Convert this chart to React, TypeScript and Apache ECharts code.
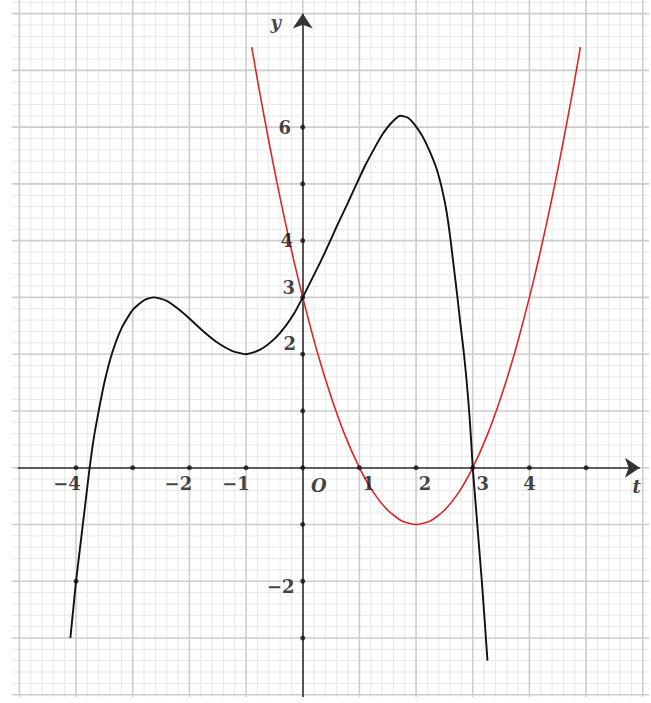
import React, { useEffect, useRef } from "react";
import * as echarts from "echarts";

// ---- data ----
const BLACK_T = [-4.1, -4.05, -4.0, -3.94, -3.88, -3.82, -3.76, -3.69, -3.6, -3.5, -3.37, -3.2, -3.0, -2.8, -2.63, -2.4, -2.2, -2.0, -1.75, -1.5, -1.25, -1.0, -0.75, -0.5, -0.3, -0.15, 0, 0.15, 0.3, 0.45, 0.6, 0.78, 0.95, 1.1, 1.25, 1.4, 1.55, 1.72, 1.85, 1.97, 2.1, 2.23, 2.36, 2.46, 2.54, 2.61, 2.67, 2.73, 2.78, 2.84, 2.89, 2.94, 2.97, 3.0, 3.04, 3.08, 3.12, 3.16, 3.2, 3.26];
const BLACK_Y = [-3.0, -2.5, -2.0, -1.5, -1.0, -0.5, 0, 0.5, 1.0, 1.5, 2.0, 2.45, 2.78, 2.95, 3.0, 2.94, 2.8, 2.63, 2.4, 2.2, 2.06, 2.0, 2.08, 2.27, 2.5, 2.72, 3.0, 3.3, 3.6, 3.92, 4.25, 4.63, 5.0, 5.32, 5.6, 5.86, 6.06, 6.2, 6.17, 6.05, 5.86, 5.6, 5.27, 4.9, 4.5, 4.0, 3.5, 3.0, 2.55, 2.05, 1.55, 0.95, 0.5, 0, -0.5, -1.0, -1.5, -2.0, -2.55, -3.4];

const RED_T = [-0.9, -0.75, -0.6, -0.45, -0.3, -0.15, 0, 0.25, 0.5, 0.75, 1, 1.25, 1.5, 1.75, 2, 2.25, 2.5, 2.75, 3, 3.25, 3.5, 3.75, 4, 4.15, 4.3, 4.45, 4.6, 4.75, 4.9];
const RED_Y = [7.41, 6.56, 5.76, 5.0, 4.29, 3.62, 3.0, 2.06, 1.25, 0.56, 0, -0.44, -0.75, -0.94, -1, -0.94, -0.75, -0.44, 0, 0.56, 1.25, 2.06, 3.0, 3.62, 4.29, 5.0, 5.76, 6.56, 7.41];

const X_TICK_DOTS = [-4, -3, -2, -1, 0, 1, 2, 3, 4, 5];
const Y_TICK_DOTS = [-3, -2, -1, 1, 2, 3, 4, 5, 6];
const CURVE_DOT = [[-4, -2]];

const X_LABELS = ["−4", "−2", "−1", "O", "1", "2", "3", "4", "t"];
const X_LABEL_AT = [-4, -2, -1, 0, 1, 2, 3, 4, 6];
const Y_LABELS = ["6", "4", "3", "2", "−2", "y"];
const Y_LABEL_AT = [6, 4, 3, 2, -2, 7.8];

// ---- view extents ----
const X_MIN = -5.13;
const X_MAX = 6.11;
const Y_MIN = -4.04;
const Y_MAX = 8.24;

// label offsets (pixels) per label text
const X_LABEL_OFFSET: Record<string, number[]> = {
  "−4": [-9, 16], "−2": [-11, 16], "−1": [-10, 16], O: [16, 18],
  "1": [9, 16], "2": [9, 16], "3": [10, 16], "4": [0, 16], t: [-6, 19],
};
const Y_LABEL_OFFSET: Record<string, number[]> = {
  "6": [-18, 0], "4": [-16, 0], "3": [-14, -10], "2": [-13, -11], "−2": [-22, 5], y: [-27, -2],
};
const ITALIC = new Set(["O", "t", "y"]);

function range(a: number, b: number) {
  const r: number[] = [];
  for (let k = a; k <= b; k++) r.push(k);
  return r;
}
const V_MINOR = range(-25, 30).filter((k) => k % 5 !== 0).map((k) => k / 5);
const V_MAJOR = range(-5, 6);
const H_MINOR = range(-20, 41).filter((k) => k % 5 !== 0).map((k) => k / 5);
const H_MAJOR = range(-4, 8);

function vLines(vals: number[], color: string, width: number, z: number) {
  return {
    type: "custom",
    silent: true,
    z,
    data: vals.map((v) => [v, 0]),
    renderItem: (_p: any, api: any) => {
      const v = api.value(0);
      const a = api.coord([v, Y_MIN]);
      const b = api.coord([v, Y_MAX]);
      return { type: "line", shape: { x1: a[0], y1: a[1], x2: b[0], y2: b[1] }, style: { stroke: color, lineWidth: width } };
    },
  };
}
function hLines(vals: number[], color: string, width: number, z: number) {
  return {
    type: "custom",
    silent: true,
    z,
    data: vals.map((v) => [0, v]),
    renderItem: (_p: any, api: any) => {
      const v = api.value(1);
      const a = api.coord([X_MIN, v]);
      const b = api.coord([X_MAX, v]);
      return { type: "line", shape: { x1: a[0], y1: a[1], x2: b[0], y2: b[1] }, style: { stroke: color, lineWidth: width } };
    },
  };
}

function labelItem(text: string, x: number, y: number, off: number[]) {
  return {
    value: [x, y],
    label: {
      show: true,
      formatter: text,
      position: "inside",
      align: "center",
      verticalAlign: "middle",
      offset: off,
      fontStyle: ITALIC.has(text) ? "italic" : "normal",
    },
  };
}

export default function App() {
  const ref = useRef<HTMLDivElement>(null);
  useEffect(() => {
    document.body.style.margin = "0";
    const chart = echarts.init(ref.current!, null, { renderer: "svg" });
    const minorC = "#e8e8e8";
    const majorC = "#cdcdcd";
    chart.setOption({
      animation: false,
      backgroundColor: "#ffffff",
      grid: { left: 12, right: 2, top: 0, bottom: 6 },
      xAxis: { type: "value", min: X_MIN, max: X_MAX, show: false },
      yAxis: { type: "value", min: Y_MIN, max: Y_MAX, show: false },
      series: [
        vLines(V_MINOR, minorC, 1, 1),
        hLines(H_MINOR, minorC, 1, 1),
        vLines(V_MAJOR, majorC, 1.6, 2),
        hLines(H_MAJOR, majorC, 1.6, 2),
        {
          type: "lines",
          coordinateSystem: "cartesian2d",
          z: 3,
          silent: true,
          symbol: ["none", "arrow"],
          symbolSize: [9, 15],
          lineStyle: { color: "#333333", width: 1.6, opacity: 1, curveness: 0 },
          data: [
            { coords: [[-5.03, 0], [5.95, 0]] },
            { coords: [[0, Y_MIN], [0, 8.0]] },
          ],
        },
        {
          type: "line",
          z: 4,
          silent: true,
          data: RED_T.map((t, i) => [t, RED_Y[i]]),
          smooth: 0.2,
          showSymbol: false,
          lineStyle: { color: "#d9262b", width: 1.6 },
        },
        {
          type: "line",
          z: 4,
          silent: true,
          data: BLACK_T.map((t, i) => [t, BLACK_Y[i]]),
          smooth: 0.2,
          showSymbol: false,
          lineStyle: { color: "#111111", width: 1.9 },
        },
        {
          type: "scatter",
          z: 5,
          silent: true,
          symbolSize: 5,
          itemStyle: { color: "#111111" },
          data: [
            ...X_TICK_DOTS.map((x) => [x, 0]),
            ...Y_TICK_DOTS.map((y) => [0, y]),
            ...CURVE_DOT,
          ],
        },
        {
          type: "scatter",
          z: 6,
          silent: true,
          symbolSize: 0,
          itemStyle: { color: "transparent" },
          label: {
            fontFamily: "DejaVu Serif",
            fontWeight: "bold",
            fontSize: 18,
            color: "#111111",
          },
          data: [
            ...X_LABELS.map((s, i) => labelItem(s, X_LABEL_AT[i], 0, X_LABEL_OFFSET[s])),
            ...Y_LABELS.map((s, i) => labelItem(s, 0, Y_LABEL_AT[i], Y_LABEL_OFFSET[s])),
          ],
        },
      ],
    });
    return () => chart.dispose();
  }, []);
  return <div ref={ref} style={{ width: 651, height: 703 }} />;
}
